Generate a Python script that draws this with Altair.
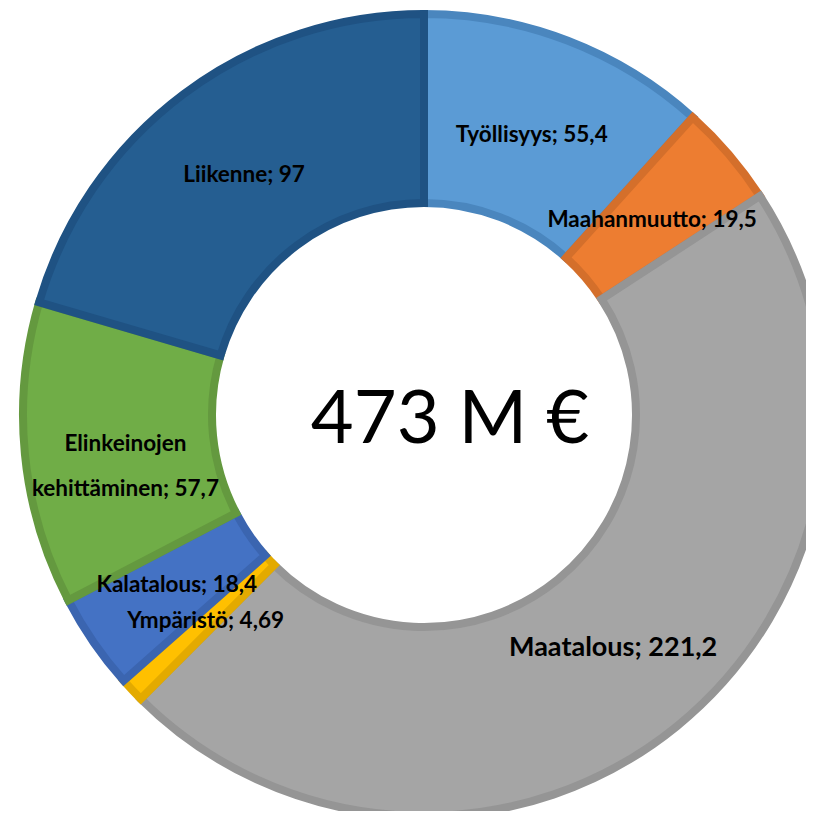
import altair as alt
import pandas as pd

categories = ["Työllisyys", "Maahanmuutto", "Maatalous", "Ympäristö",
              "Kalatalous", "Elinkeinojen kehittäminen", "Liikenne"]
values = [55.4, 19.5, 221.2, 4.69, 18.4, 57.7, 97]
labels = ["Työllisyys; 55,4", "Maahanmuutto; 19,5", "Maatalous; 221,2",
          "Ympäristö; 4,69", "Kalatalous; 18,4",
          "Elinkeinojen\nkehittäminen; 57,7", "Liikenne; 97"]
fills = ["#5B9BD5", "#ED7D31", "#A5A5A5", "#FFC000", "#4472C4", "#70AD47", "#255E91"]
strokes = ["#4A86BE", "#D46F2B", "#959595", "#E3AA00", "#3B65B0", "#64993F", "#1F5283"]
center_text = "473 M €"

df = pd.DataFrame({
    "cat": categories,
    "val": values,
    "label": labels,
    "order": list(range(len(categories))),
})

W, H = 798, 803
CX, CY = 416, 407

base = alt.Chart(df).encode(
    theta=alt.Theta("val:Q", stack=True),
    order=alt.Order("order:Q"),
)

arcs = base.mark_arc(outerRadius=401, innerRadius=212, strokeWidth=8).encode(
    x=alt.value(CX),
    y=alt.value(CY),
    color=alt.Color("cat:N", scale=alt.Scale(domain=categories, range=fills), legend=None),
    stroke=alt.Stroke("cat:N", scale=alt.Scale(domain=categories, range=strokes), legend=None),
)

text = base.mark_text(
    font="Lato", fontWeight="bold", color="black",
    lineBreak="\n", lineHeight=45, align="center", baseline="middle",
).encode(
    x=alt.value(CX),
    y=alt.value(CY),
    radius=alt.value(300),
    text="label:N",
    size=alt.condition(alt.datum.cat == "Maatalous", alt.value(27), alt.value(22.5)),
)

center = alt.Chart(pd.DataFrame({"t": [center_text]})).mark_text(
    font="Lato", fontSize=74, fontWeight="normal", color="black",
    align="center", baseline="alphabetic",
).encode(
    x=alt.value(442),
    y=alt.value(435),
    text="t:N",
)

chart = alt.layer(arcs, text, center).properties(
    width=W, height=H,
    autosize=alt.AutoSizeParams(type="none"),
    padding=0,
).configure_view(stroke=None)

chart.save("out.html", embed_options={"renderer": "svg", "actions": False})
